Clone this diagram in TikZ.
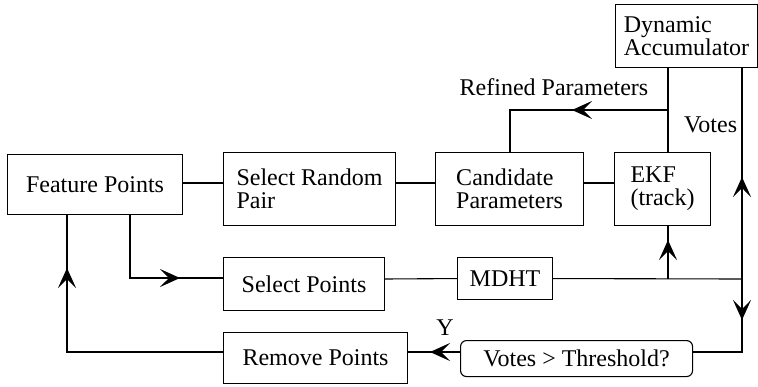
\documentclass[tikz,border=0pt]{standalone}
\usepackage{fontspec}
\setmainfont{Liberation Serif}
\usetikzlibrary{arrows.meta,decorations.markings}
\tikzset{
  box/.style={draw, line width=1.1pt, anchor=north west, align=left, inner sep=0pt,
    font=\fontsize{24}{23}\selectfont},
  lbl/.style={font=\fontsize{24}{23}\selectfont, inner sep=0pt},
  conn/.style={line width=1.1pt},
  arrowat/.style={postaction={decorate}, decoration={markings,
    mark=at position #1 with {\arrow{Stealth[length=20pt,width=18pt,inset=9pt]}}}}
}
\begin{document}
\begin{tikzpicture}[x=1pt,y=-1pt]
\useasboundingbox (0,0) rectangle (758,386);
% boxes
\node[box, minimum width=175pt, minimum height=60pt] (fp) at (7,154) {Feature Points};
\node[box, minimum width=172pt, minimum height=73pt] (srp) at (223,152) {Select Random\\Pair};
\node[box, minimum width=161pt, minimum height=53pt] (sp) at (223,257) {Select Points};
\node[box, minimum width=184pt, minimum height=51pt] (rp) at (223,332) {Remove Points};
\node[box, minimum width=148pt, minimum height=73pt] (cp) at (435,152) {Candidate\\Parameters};
\node[box, minimum width=96pt, minimum height=73pt] (ekf) at (614,152) {EKF\\(track)};
\node[box, minimum width=142pt, minimum height=63pt] (da) at (615,4) {Dynamic\\Accumulator};
\node[box, minimum width=95pt, minimum height=42pt] (mdht) at (457,257) {MDHT};
\node[box, rounded corners=6pt, minimum width=232pt, minimum height=36pt] (vt) at (460,340) {Votes > Threshold?};
% labels
\node[lbl] (lref) at (554,87) {Refined Parameters};
\node[lbl, anchor=west] (lvotes) at (684,125) {Votes};
\node[lbl] (ly) at (445,328) {Y};
% junction coordinates
\coordinate (e1) at (668,67);
\coordinate (e2) at (668,152);
\coordinate (r1) at (668,110);
\coordinate (r2) at (510,110);
\coordinate (c2) at (510,152);
\coordinate (j1) at (668,279);
\coordinate (e3) at (668,225);
\coordinate (j2) at (742,279);
\coordinate (v1) at (742,67);
\coordinate (v2) at (742,352);
\coordinate (vte) at (692,352);
\coordinate (vtw) at (460,352);
\coordinate (rpe) at (407,352);
\coordinate (rpw) at (223,352);
\coordinate (f1) at (130,214);
\coordinate (f2) at (130,278);
\coordinate (spw) at (223,278);
\coordinate (spe) at (384,279);
\coordinate (f3) at (67,214);
\coordinate (f4) at (67,352);
\coordinate (ln) at (0,183);
% connectors
\draw[conn] (fp.east |- ln) -- (srp.west |- ln);
\draw[conn] (srp.east |- ln) -- (cp.west |- ln);
\draw[conn] (cp.east |- ln) -- (ekf.west |- ln);
\draw[conn] (e1) -- (e2);
\draw[conn, arrowat=96pt] (r1) -- (r2) -- (c2);
\draw[conn] (spe) -- (mdht.west);
\draw[conn] (mdht.east) -- (j2);
\draw[conn, arrowat=39pt] (j1) -- (e3);
\draw[conn, arrowat=102pt] (j2) -- (v1);
\draw[conn, arrowat=41pt] (j2) -- (v2) -- (vte);
\draw[conn, arrowat=30pt] (vtw) -- (rpe);
\draw[conn, arrowat=114pt] (f1) -- (f2) -- (spw);
\draw[conn, arrowat=240pt] (rpw) -- (f4) -- (f3);
\end{tikzpicture}
\end{document}
